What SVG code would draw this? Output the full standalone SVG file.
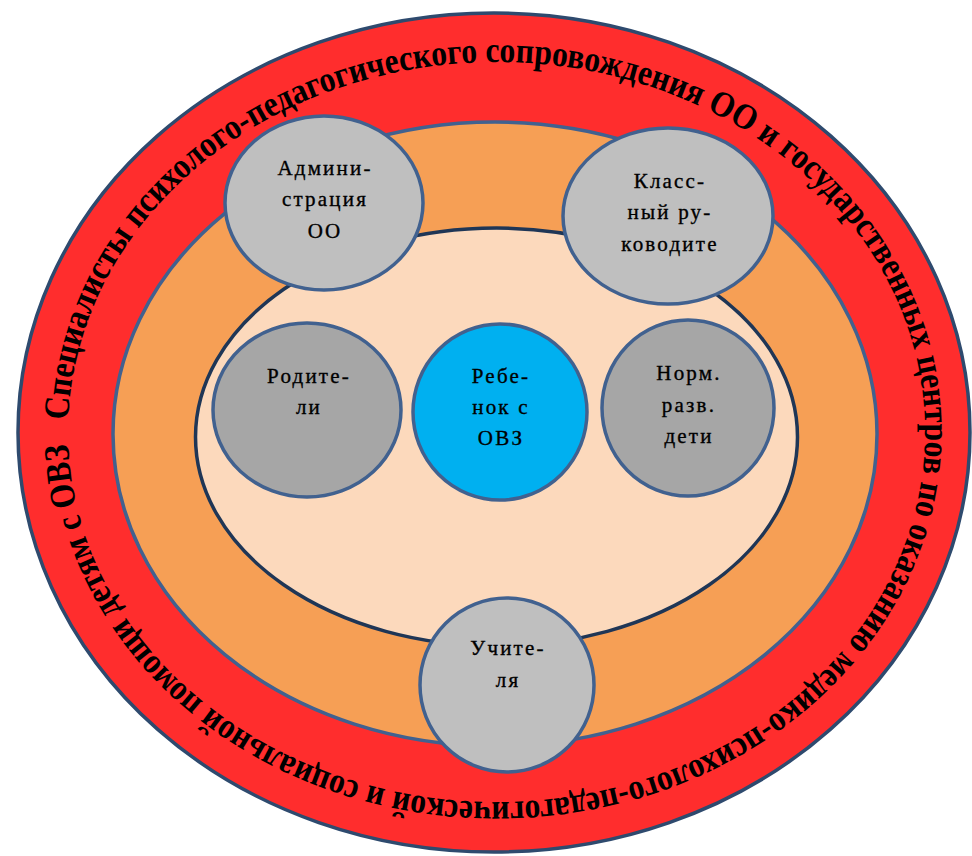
<svg xmlns="http://www.w3.org/2000/svg" width="972" height="856" viewBox="0 0 972 856">
<style>
.ring{stroke-width:3.5}
.node{stroke:#41618f;stroke-width:3.5}
.lbl{font-family:"Liberation Serif","Times New Roman",serif;font-size:21px;letter-spacing:2.2px;fill:#000;stroke:#000;stroke-width:0.35px;text-anchor:middle}
.arc{font-family:"Liberation Serif","Times New Roman",serif;font-size:36px;font-weight:bold;fill:#000}
</style>
<defs>
<path id="textArc" d="M 68,432 A 428.5,370 0 0 1 925,432 A 428.5,370 0 0 1 68,432"/>
</defs>
<rect width="972" height="856" fill="#ffffff"/>
<g id="outer-ring">
<ellipse class="ring" cx="494" cy="432.5" rx="476" ry="419.5" fill="#FF2D2D" stroke="#2e4a6e"/>
<text class="arc"><textPath href="#textArc" startOffset="12" textLength="2487" lengthAdjust="spacingAndGlyphs">Специалисты психолого-педагогического сопровождения ОО и государственных центров по оказанию медико-психолого-педагогической и социальной помощи детям с ОВЗ</textPath></text>
</g>
<g id="middle-ring">
<ellipse class="ring" cx="495" cy="434" rx="382" ry="312" fill="#F69F55" stroke="#41618f"/>
</g>
<g id="inner-ring">
<ellipse class="ring" cx="496.5" cy="437" rx="301" ry="209" fill="#FCD9BC" stroke="#1f3656"/>
</g>
<g id="connectors"></g>
<g id="node-admin">
<ellipse class="node" cx="324" cy="203" rx="99" ry="87" fill="#BFBFBF"/>
<text class="lbl" x="325" y="175">Админи-</text>
<text class="lbl" x="325" y="206">страция</text>
<text class="lbl" x="325" y="238">ОО</text>
</g>
<g id="node-class">
<ellipse class="node" cx="668" cy="216" rx="105" ry="88" fill="#BFBFBF"/>
<text class="lbl" x="670" y="188">Класс-</text>
<text class="lbl" x="670" y="219">ный ру-</text>
<text class="lbl" x="670" y="251">ководите</text>
</g>
<g id="node-parents">
<ellipse class="node" cx="307" cy="410" rx="94" ry="87" fill="#A6A6A6"/>
<text class="lbl" x="309" y="383">Родите-</text>
<text class="lbl" x="309" y="414">ли</text>
</g>
<g id="node-child">
<ellipse class="node" cx="500" cy="412" rx="87" ry="88" fill="#00B0F0"/>
<text class="lbl" x="501" y="383">Ребе-</text>
<text class="lbl" x="501" y="414">нок с</text>
<text class="lbl" x="501" y="445">ОВЗ</text>
</g>
<g id="node-norm">
<ellipse class="node" cx="688" cy="408" rx="86" ry="88" fill="#A6A6A6"/>
<text class="lbl" x="689" y="380">Норм.</text>
<text class="lbl" x="689" y="412">разв.</text>
<text class="lbl" x="689" y="443">дети</text>
</g>
<g id="node-teachers">
<ellipse class="node" cx="507" cy="685" rx="87" ry="87" fill="#BFBFBF"/>
<text class="lbl" x="508" y="655">Учите-</text>
<text class="lbl" x="508" y="687">ля</text>
</g>
</svg>
